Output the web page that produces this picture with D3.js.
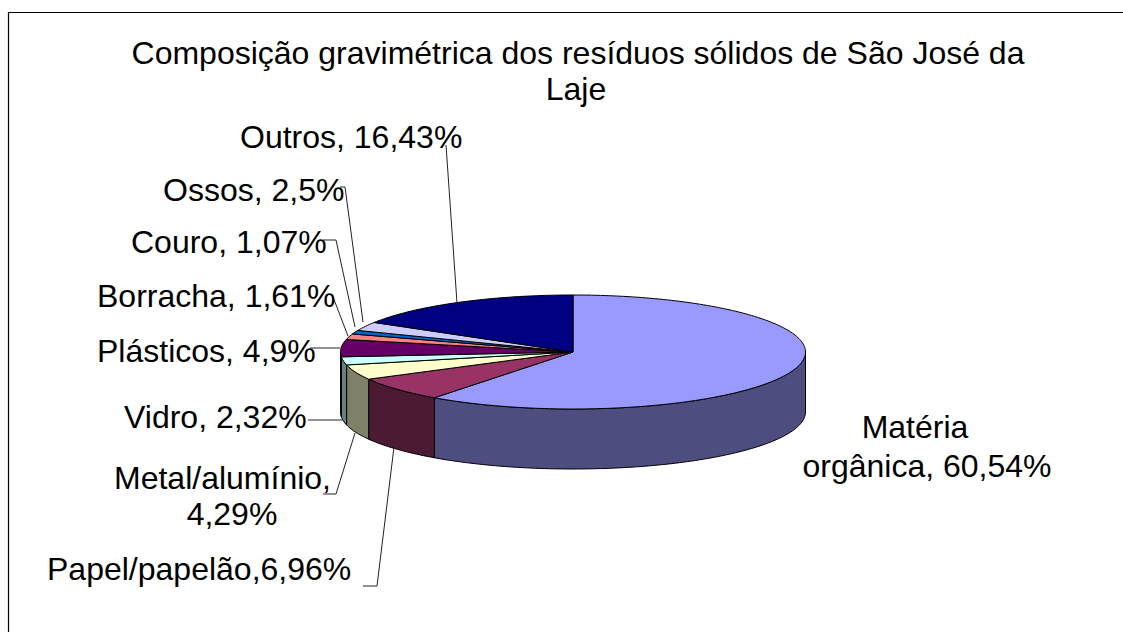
<!DOCTYPE html>
<html><head><meta charset="utf-8">
<script src="https://cdn.jsdelivr.net/npm/d3@7"></script>
<style>html,body{margin:0;padding:0;background:#fff}svg{display:block}text{font-family:"Liberation Sans",Arial,sans-serif;font-size:32px;fill:#000}</style>
</head><body><svg id="c" width="1123" height="632"></svg>
<script>
const categories=["Matéria orgânica","Papel/papelão","Metal/alumínio","Vidro","Plásticos","Borracha","Couro","Ossos","Outros"];
const values=[60.54,6.96,4.29,2.32,4.9,1.61,1.07,2.5,16.43];
const topColors=["#9999FF","#993366","#FFFFCC","#CCFFFF","#660066","#FF8080","#0066CC","#CCCCFF","#000080"];
const sideColors=["#4D4D80","#4D1A33","#808066","#668080","#330033","#804040","#003366","#666680","#000040"];
const titleLines=["Composição gravimétrica dos resíduos sólidos de São José da","Laje"];
const labelLines=[["Matéria","orgânica, 60,54%"],["Papel/papelão,6,96%"],["Metal/alumínio,","4,29%"],["Vidro, 2,32%"],["Plásticos, 4,9%"],["Borracha, 1,61%"],["Couro, 1,07%"],["Ossos, 2,5%"],["Outros, 16,43%"]];
// layout
const labelPos=[{x:915,y:438,a:"middle",x2:927,y2:477},{x:47,y:580,a:"start"},{x:114,y:489,a:"start",x2:232,y2:525,a2:"middle"},{x:124,y:428,a:"start"},{x:97,y:362,a:"start"},{x:97,y:307,a:"start"},{x:131,y:253,a:"start"},{x:163,y:201,a:"start"},{x:240,y:148,a:"start"}];
const leaders=[null,[[363,586],[377,586],[394,447]],[[323,494],[336,494],[355,433]],[[308,420],[342,420]],[[310,348],[340,348]],[[331,295],[333,297],[348,336]],[[323,240],[336,240],[355,327]],[[340,187],[345,187],[363,322]],[[446,145],[457,303]]];
const cx=573,cy=352,rx=232.5,ry=57,depth=60;
const svg=d3.select("#c");
const proj=(a,dy=0)=>[cx+rx*Math.sin(a),cy-ry*Math.cos(a)+dy];
const line=d3.line();
const arcs=d3.pie().sort(null).value(d=>d)(values);
function pts(a0,a1,dy){const n=Math.max(2,Math.ceil((a1-a0)/0.02));return d3.range(n+1).map(i=>proj(a0+(a1-a0)*i/n,dy));}
// outer frame: only top and left edges are visible
svg.append("path").attr("d",line([[8.5,632],[8.5,12.5],[1123,12.5]])).attr("fill","none").attr("stroke","#000").attr("stroke-width",1.2);
// walls
const lo=Math.PI/2,hi=3*Math.PI/2;
svg.append("g").selectAll("path").data(arcs.filter(d=>d.endAngle>lo&&d.startAngle<hi)).join("path")
 .attr("d",d=>{const a0=Math.max(d.startAngle,lo),a1=Math.min(d.endAngle,hi);
   return line([...pts(a0,a1,0),...pts(a0,a1,depth).reverse()])+"Z";})
 .attr("fill",d=>sideColors[d.index]).attr("stroke","#000").attr("stroke-width",1);
// tops
svg.append("g").selectAll("path").data(arcs).join("path")
 .attr("d",d=>line([[cx,cy],...pts(d.startAngle,d.endAngle,0)])+"Z")
 .attr("fill",d=>topColors[d.index]).attr("stroke","#000").attr("stroke-width",1).attr("stroke-linejoin","round");
// leaders
svg.append("g").selectAll("path").data(leaders.filter(Boolean)).join("path")
 .attr("d",d=>line(d)).attr("fill","none").attr("stroke","#222").attr("stroke-width",1);
// title
svg.append("text").attr("x",578).attr("y",64).attr("text-anchor","middle").text(titleLines[0]);
svg.append("text").attr("x",576).attr("y",100).attr("text-anchor","middle").text(titleLines[1]);
// labels
labelLines.forEach((l,i)=>{const p=labelPos[i];
 svg.append("text").attr("x",p.x).attr("y",p.y).attr("text-anchor",p.a).text(l[0]);
 if(l[1])svg.append("text").attr("x",p.x2).attr("y",p.y2).attr("text-anchor",p.a2||p.a).text(l[1]);});
</script></body></html>
